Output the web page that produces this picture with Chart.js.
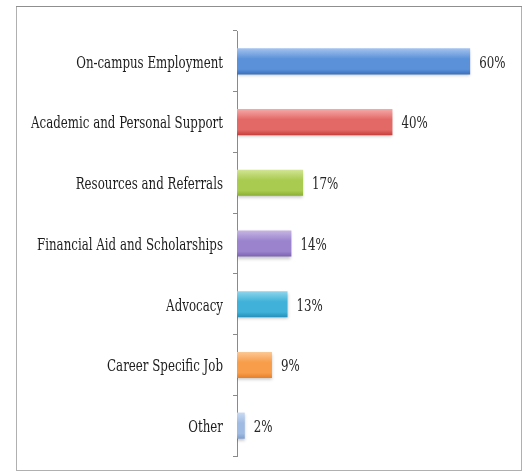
<!DOCTYPE html>
<html>
<head>
<meta charset="utf-8">
<script src="https://cdn.jsdelivr.net/npm/chart.js@4/dist/chart.umd.min.js"></script>
<style>
  html, body { margin: 0; padding: 0; background: #ffffff; }
  #wrap { width: 526px; height: 474px; position: relative; }
</style>
</head>
<body>
<div id="wrap"><canvas id="chart" width="526" height="474"></canvas></div>
<script>
// Services students reported using
const categories = [
  'On-campus Employment',
  'Academic and Personal Support',
  'Resources and Referrals',
  'Financial Aid and Scholarships',
  'Advocacy',
  'Career Specific Job',
  'Other'
];
const percentValues = [60, 40, 17, 14, 13, 9, 2];
const valueLabels = ['60%', '40%', '17%', '14%', '13%', '9%', '2%'];

// Vertical shading for each bar: light top, saturated middle, darker bottom
const barShades = [
  ['#a3c3ee', '#5b91d9', '#3a70bd'],
  ['#f5aaa8', '#e36966', '#c63f3c'],
  ['#d2e493', '#a9cb50', '#8aae33'],
  ['#c6b5e3', '#9b84cd', '#7c61b2'],
  ['#90d6ec', '#40b2d9', '#2490bb'],
  ['#fcc895', '#f89d4a', '#e6802b'],
  ['#c9daf2', '#9fbbe3', '#7f9ecd']
];

const LABEL_FONT = '17px "DejaVu Serif Condensed", "DejaVu Serif", serif';
// Labels are set in a narrow face: squeeze so the longest category is ~186px wide
let squeeze = null;
function getSqueeze(ctx) {
  if (squeeze === null) {
    ctx.save();
    ctx.font = LABEL_FONT;
    squeeze = 186 / ctx.measureText(categories[3]).width;
    ctx.restore();
  }
  return squeeze;
}

function drawNarrowText(ctx, text, x, y, align, color) {
  const s = getSqueeze(ctx);
  ctx.save();
  ctx.font = LABEL_FONT;
  ctx.fillStyle = color;
  ctx.textBaseline = 'middle';
  ctx.translate(x, y);
  ctx.scale(s, 1);
  const w = ctx.measureText(text).width;
  const dx = align === 'right' ? -w : 0;
  ctx.fillText(text, dx, 0);
  ctx.restore();
}

const framePlugin = {
  id: 'frame',
  beforeDraw(chart) {
    const ctx = chart.ctx;
    ctx.save();
    ctx.fillStyle = '#ffffff';
    ctx.fillRect(0, 0, chart.width, chart.height);
    ctx.strokeStyle = '#b0b0b0';
    ctx.lineWidth = 1;
    ctx.strokeRect(16.5, 6.5, 505, 464);
    ctx.strokeStyle = '#8f8f8f';
    ctx.beginPath();
    ctx.moveTo(16, 6.5); ctx.lineTo(522, 6.5);
    ctx.stroke();
    ctx.restore();
  }
};

const shadowPlugin = {
  id: 'barShadow',
  beforeDatasetsDraw(chart) {
    const ctx = chart.ctx;
    ctx.save();
    ctx.shadowColor = 'rgba(0,0,0,0.22)';
    ctx.shadowBlur = 3;
    ctx.shadowOffsetY = 2;
  },
  afterDatasetsDraw(chart) {
    chart.ctx.restore();
  }
};

const labelPlugin = {
  id: 'narrowLabels',
  afterDraw(chart) {
    const ctx = chart.ctx;
    const yScale = chart.scales.y;
    const xScale = chart.scales.x;
    categories.forEach((name, i) => {
      const y = yScale.getPixelForValue(i) + 2;
      drawNarrowText(ctx, name, yScale.right - 14, y, 'right', '#1c1c1c');
      const end = xScale.getPixelForValue(percentValues[i]);
      drawNarrowText(ctx, valueLabels[i], end + 9, y, 'left', '#262626');
    });
  }
};

new Chart(document.getElementById('chart'), {
  type: 'bar',
  data: {
    labels: categories,
    datasets: [{
      data: percentValues,
      barPercentage: 0.86,
      categoryPercentage: 0.5,
      borderWidth: 0,
      backgroundColor(c) {
        const chart = c.chart;
        const shades = barShades[c.dataIndex];
        const yScale = chart.scales.y;
        if (!yScale || !chart.chartArea) return shades[1];
        const y = yScale.getPixelForValue(c.dataIndex);
        const half = 13;
        const g = chart.ctx.createLinearGradient(0, y - half, 0, y + half);
        g.addColorStop(0, shades[0]);
        g.addColorStop(0.4, shades[1]);
        g.addColorStop(0.8, shades[1]);
        g.addColorStop(1, shades[2]);
        return g;
      }
    }]
  },
  options: {
    indexAxis: 'y',
    responsive: false,
    animation: false,
    devicePixelRatio: 1,
    layout: { padding: { top: 31, bottom: 18, right: 17, left: 0 } },
    plugins: {
      legend: { display: false },
      tooltip: { enabled: false }
    },
    scales: {
      x: {
        display: false,
        min: 0,
        max: 70
      },
      y: {
        afterFit(scale) { scale.width = 237; },
        border: { display: true, color: '#8a8a8a', width: 1 },
        grid: {
          drawOnChartArea: false,
          drawTicks: true,
          tickLength: 4,
          color: '#8a8a8a',
          offset: true
        },
        ticks: { display: false }
      }
    }
  },
  plugins: [framePlugin, shadowPlugin, labelPlugin]
});
</script>
</body>
</html>
